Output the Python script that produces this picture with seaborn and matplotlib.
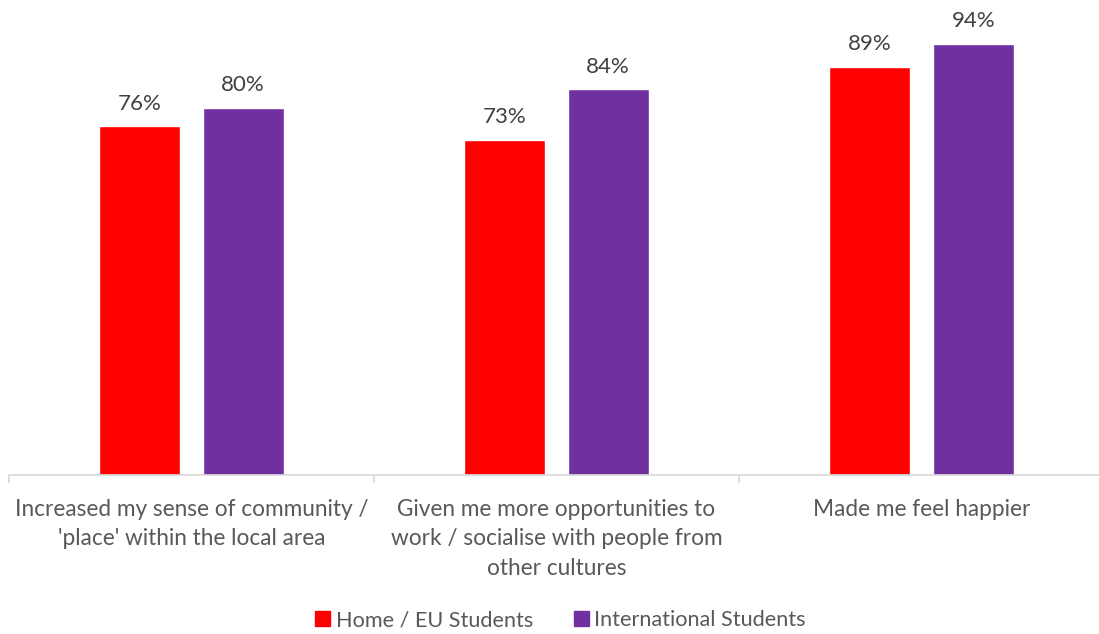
import matplotlib
matplotlib.use("Agg")
import matplotlib.pyplot as plt
import seaborn as sns
import pandas as pd
from matplotlib.ticker import FixedLocator

categories = [
    "Increased my sense of community /\n'place' within the local area",
    "Given me more opportunities to\nwork / socialise with people from\nother cultures",
    "Made me feel happier",
]
series = ["Home / EU Students", "International Students"]
home_eu = [76, 73, 89]
international = [80, 84, 94]
colors = ["#FF0000", "#7030A0"]

df = pd.DataFrame({
    "category": categories * 2,
    "group": [series[0]] * 3 + [series[1]] * 3,
    "value": home_eu + international,
})

sns.set_theme(style="white")
plt.rcParams["font.family"] = ["Lato", "DejaVu Sans"]
text_col = "#595959"

fig = plt.figure(figsize=(10.99, 6.34), dpi=100)
ax = fig.add_axes([9 / 1099, 159 / 634, 1095 / 1099, 475 / 634])

sns.barplot(data=df, x="category", y="value", hue="group", palette=colors,
            width=0.567, gap=0.217, ax=ax, legend=False, saturation=1)

for cont in ax.containers:
    ax.bar_label(cont, labels=[f"{v:.0f}%" for v in cont.datavalues],
                 padding=9, fontsize=16, color="#404040")

ax.set_ylim(0, 103.5)
ax.set_xlim(-0.5, 2.5)
ax.set_xlabel("")
ax.set_ylabel("")
ax.set_yticks([])
for s in ["top", "right", "left"]:
    ax.spines[s].set_visible(False)
ax.spines["bottom"].set_color("#D9D9D9")
ax.spines["bottom"].set_linewidth(1.2)

ax.tick_params(axis="x", which="major", length=0, pad=17, labelsize=16.3,
               labelcolor=text_col)
ax.xaxis.set_minor_locator(FixedLocator([-0.5, 0.5, 1.5, 2.5]))
ax.tick_params(axis="x", which="minor", length=6, width=1.2, color="#D9D9D9",
               direction="out", bottom=True)
for lbl in ax.get_xticklabels():
    lbl.set_linespacing(1.52)

handles = [plt.Rectangle((0, 0), 1, 1, color=c) for c in colors]
fig.legend(handles, series, loc="lower center", ncol=2, frameon=False,
           bbox_to_anchor=(0.51, -0.025), fontsize=15.6, labelcolor=text_col,
           handlelength=0.68, handleheight=0.68, handletextpad=0.25,
           columnspacing=1.9)

fig.savefig("out.png", dpi=100)
